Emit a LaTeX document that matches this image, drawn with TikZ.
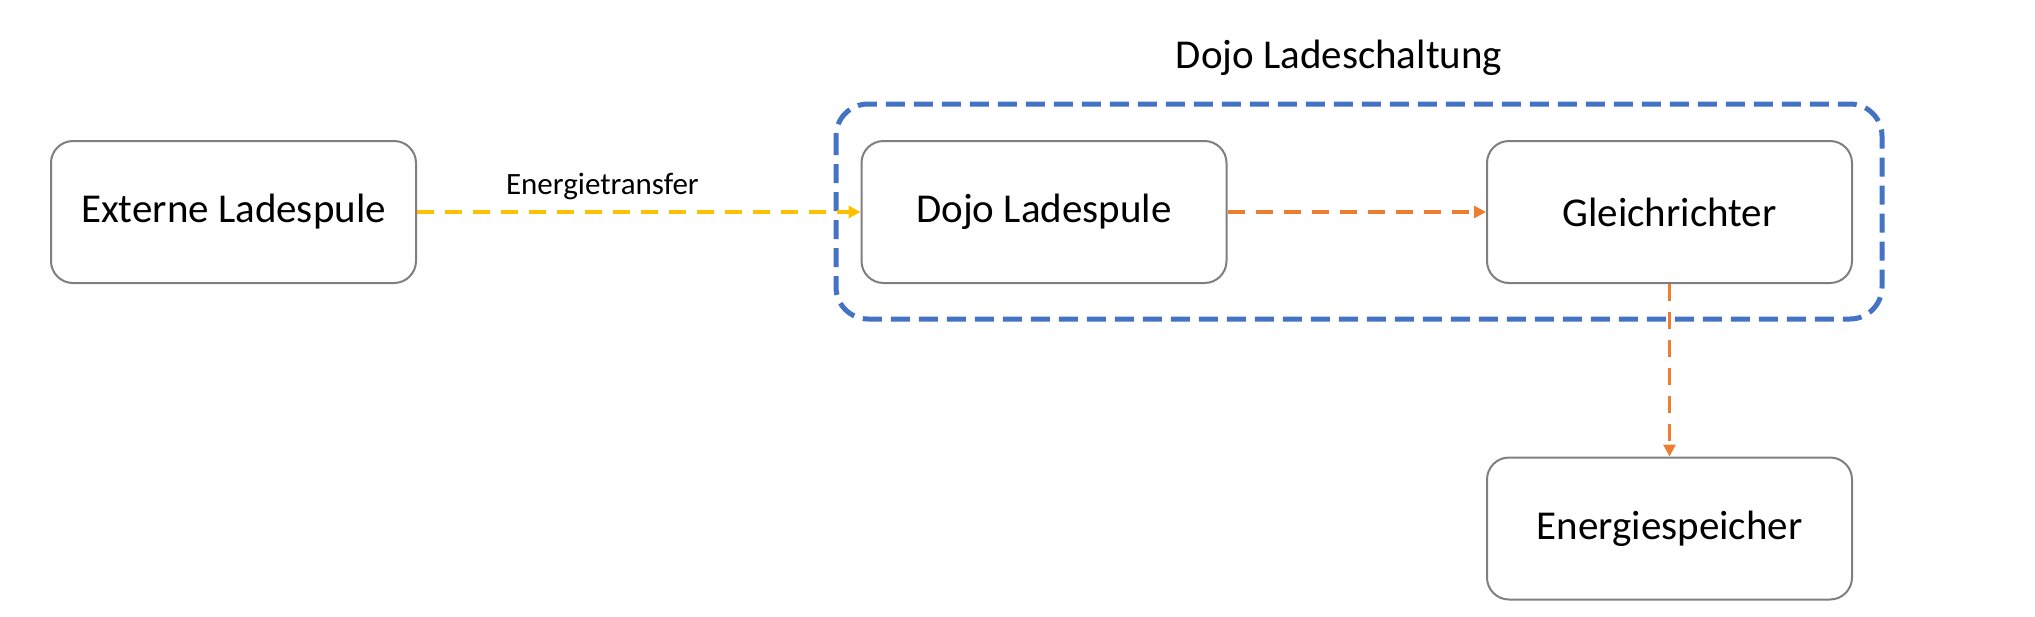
\documentclass[tikz,border=0pt]{standalone}
\usepackage{fontspec}
\setmainfont{Carlito}
\usetikzlibrary{arrows.meta}
\definecolor{boxgray}{HTML}{7F7F7F}
\definecolor{msorange}{HTML}{ED7D31}
\definecolor{msyellow}{HTML}{FFC000}
\definecolor{msblue}{HTML}{4472C4}
\tikzset{
  blk/.style={draw=boxgray, line width=1pt, rounded corners=11pt, minimum width=182.5pt, minimum height=71pt, inner sep=0pt, font=\fontsize{20.5}{24}\selectfont, fill=white},
  flow/.style={line width=1.7pt, dash pattern=on 8.5pt off 5.5pt, -{Triangle[length=6pt,width=6pt]}},
  group/.style={draw=msblue, line width=2.5pt, dash pattern=on 9.5pt off 4.5pt, rounded corners=16pt},
}
\begin{document}
\begin{tikzpicture}[x=0.5pt,y=-0.5pt]
\useasboundingbox (0,0) rectangle (2035,616);
\draw[group] (836,104) rectangle (1882,319);
\node[blk] (ext) at (233.5,212) {Externe Ladespule};
\node[blk] (dojo) at (1044,212) {Dojo Ladespule};
\node[blk] (gleich) at (1669.5,212) {Gleichrichter};
\node[blk] (speicher) at (1669.5,528.5) {Energiespeicher};
\node[font=\fontsize{20.5}{24}\selectfont] (title) at (1339,58) {Dojo Ladeschaltung};
\draw[flow, msyellow] (ext.east) -- node[pos=0.418, above=2pt, black, font=\fontsize{15.5}{18}\selectfont] (lbl) {Energietransfer} (dojo.west);
\draw[flow, msorange] (dojo.east) -- (gleich.west);
\draw[flow, msorange] (gleich.south) -- (speicher.north);
\end{tikzpicture}
\end{document}
